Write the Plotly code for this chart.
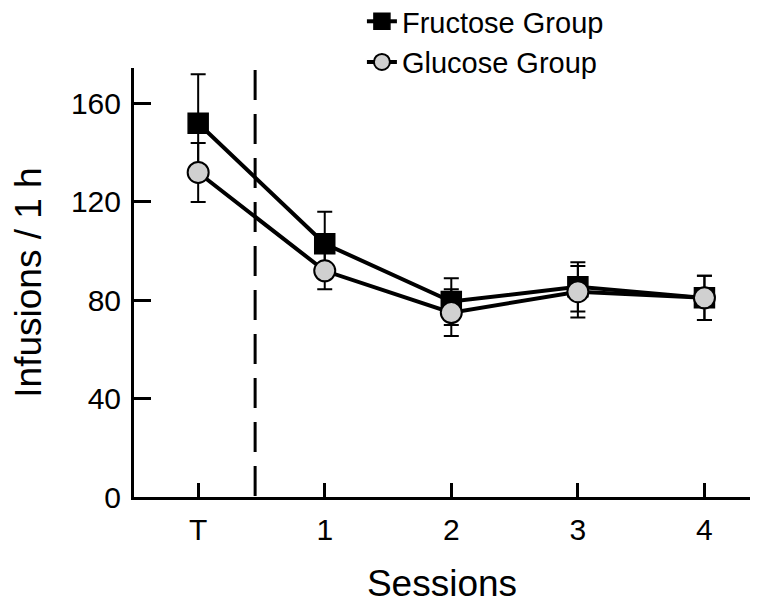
import plotly.graph_objects as go

sessions = ["T", "1", "2", "3", "4"]
x_pos = [0, 1, 2, 3, 4]
fructose_mean = [152, 103, 79.5, 85.5, 81]
fructose_sem = [20, 13, 9.5, 10, 9]
glucose_mean = [132, 92, 75, 83.5, 81]
glucose_sem = [12, 7.5, 9.5, 10.5, 9]
y_ticks = [0, 40, 80, 120, 160]

FONT = "Arial, Liberation Sans, Helvetica, sans-serif"

fig = go.Figure()
fig.add_trace(go.Scatter(
    x=x_pos, y=fructose_mean, name="Fructose Group", mode="lines+markers",
    line=dict(color="black", width=4),
    marker=dict(symbol="square", size=20, color="black", line=dict(color="black", width=1.5)),
    error_y=dict(type="data", array=fructose_sem, visible=True, color="black", thickness=2, width=7.5),
))
fig.add_trace(go.Scatter(
    x=x_pos, y=glucose_mean, name="Glucose Group", mode="lines+markers",
    line=dict(color="black", width=4),
    marker=dict(symbol="circle", size=21, color="#d0d0d0", line=dict(color="black", width=2)),
    error_y=dict(type="data", array=glucose_sem, visible=True, color="black", thickness=2, width=7.5),
))

fig.add_shape(type="line", xref="x", yref="y", x0=0.45, x1=0.45, y0=173.7, y1=0,
              line=dict(color="black", width=3, dash="30px,14px"), layer="below")

fig.update_layout(
    width=758, height=612,
    margin=dict(l=134, r=8, t=68, b=115, autoexpand=False),
    plot_bgcolor="white", paper_bgcolor="white",
    font=dict(family=FONT, color="black", size=28),
    showlegend=True,
    legend=dict(x=0.37, y=1.168, xanchor="left", yanchor="top", xref="paper", yref="paper",
                font=dict(size=29), bgcolor="rgba(0,0,0,0)", tracegroupgap=0, itemwidth=30),
    xaxis=dict(range=[-0.507, 4.36], tickmode="array", tickvals=x_pos, ticktext=sessions,
               showline=True, linecolor="black", linewidth=3, ticks="inside", ticklen=14,
               tickwidth=2.5, tickcolor="black", showgrid=False, zeroline=False,
               tickfont=dict(size=30), ticklabelstandoff=4,
               title=dict(text="Sessions", font=dict(size=37), standoff=26)),
    yaxis=dict(range=[0, 174.5], tickmode="array", tickvals=y_ticks,
               showline=True, linecolor="black", linewidth=3, ticks="inside", ticklen=17,
               tickwidth=2.5, tickcolor="black", showgrid=False, zeroline=False,
               tickfont=dict(size=30), ticklabelstandoff=4,
               title=dict(text="Infusions / 1 h", font=dict(size=37), standoff=18)),
)

fig.write_html("out.html")
